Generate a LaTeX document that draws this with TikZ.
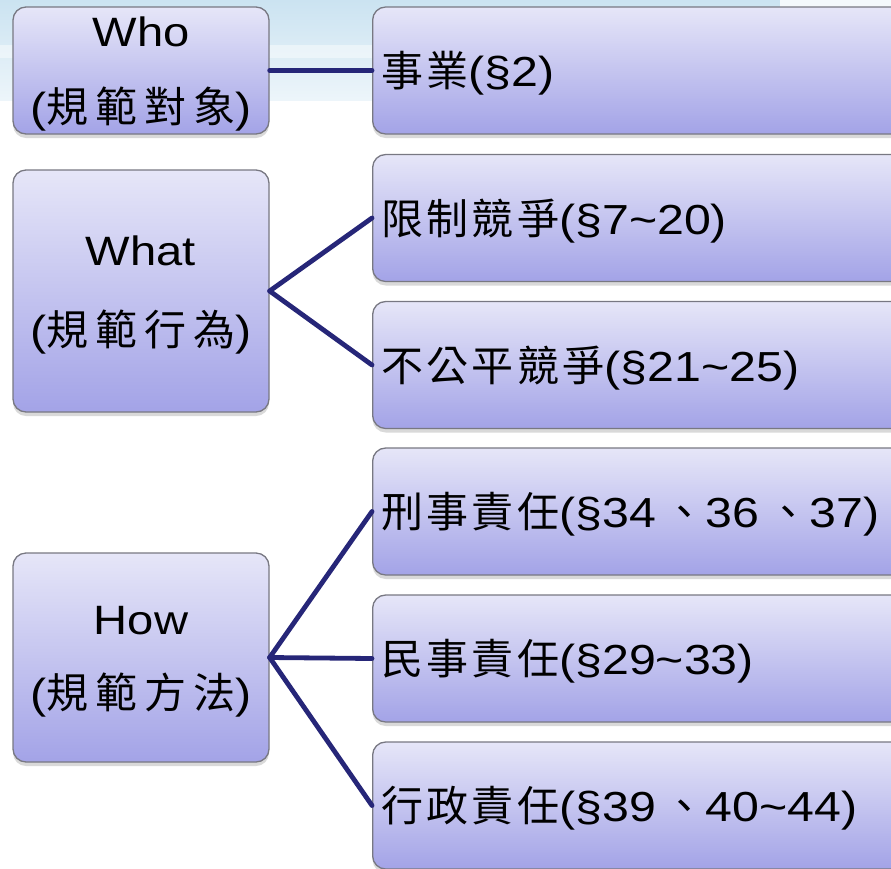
\documentclass[tikz,border=0pt]{standalone}
\usepackage{fontspec}
\setmainfont{Liberation Sans}
\newfontfamily\cjkfont[LetterSpace=8]{Noto Sans CJK TC}
\newfontfamily\cjkwidefont[LetterSpace=16]{Noto Sans CJK TC}
\newfontfamily\latwide[FakeStretch=1.15]{Liberation Sans}
\usetikzlibrary{shadows}
\newcommand\CJ[1]{{\cjkfont\fontsize{42}{50}\selectfont #1}}
\newcommand\CW[1]{{\cjkwidefont\fontsize{42}{50}\selectfont #1}}
\newcommand\LW[1]{{\latwide\fontsize{42}{50}\selectfont #1}}
\newcommand\LN[1]{{\latwide\fontsize{41}{50}\selectfont #1}}
\newcommand\DUN{\hspace{8pt}\CJ{、}}
\definecolor{boxtop}{RGB}{230,230,248}
\definecolor{boxbot}{RGB}{163,163,231}
\definecolor{boxedge}{RGB}{120,120,130}
\definecolor{navy}{RGB}{38,38,120}
\definecolor{bannerblue}{RGB}{203,227,241}
\begin{document}
\begin{tikzpicture}[x=1pt,y=-1pt,
  boxbase/.style={draw=boxedge, line width=1.3pt, rounded corners=13pt,
    top color=boxtop, bottom color=boxbot, inner sep=0pt,
    drop shadow={shadow xshift=0pt, shadow yshift=-4pt, opacity=0.25, fill=black!60}},
  lbox/.style={boxbase, minimum width=256pt},
  rbox/.style={boxbase, minimum width=540pt, minimum height=127pt, anchor=west},
  conn/.style={draw=navy, line width=4.8pt, line cap=round},
  ltext/.style={anchor=base, inner sep=0pt},
  rtext/.style={anchor=base west, inner sep=0pt}]
\useasboundingbox (0,0) rectangle (891,868);
% banner
\shade[top color=bannerblue, bottom color=bannerblue!35] (0,0) rectangle (891,100);
\fill[white, opacity=0.45] (0,45) rectangle (891,58);
\shade[left color=bannerblue!0, right color=white, opacity=0.8] (780,0) rectangle (891,100);

% left boxes
\node[lbox, minimum height=127pt] (who) at (141,70.5) {};
\node[lbox, minimum height=242pt] (what) at (141,291) {};
\node[lbox, minimum height=209pt] (how) at (141,657.5) {};

\node[ltext] (whoA) at ([yshift=24pt]who.center) {\LN{Who}};
\node[ltext] (whoB) at ([yshift=-52pt]who.center) {\LW{(}\CW{規範對象}\LW{)}};
\node[ltext] (whatA) at ([yshift=26pt]what.center) {\LN{What}};
\node[ltext] (whatB) at ([yshift=-54pt]what.center) {\LW{(}\CW{規範行為}\LW{)}};
\node[ltext] (howA) at ([yshift=23pt]how.center) {\LN{How}};
\node[ltext] (howB) at ([yshift=-51pt]how.center) {\LW{(}\CW{規範方法}\LW{)}};

% right boxes
\node[rbox] (r1) at (372,70.5) {};
\node[rbox] (r2) at (372,218) {};
\node[rbox] (r3) at (372,365) {};
\node[rbox] (r4) at (372,511.5) {};
\node[rbox] (r5) at (372,658.5) {};
\node[rbox] (r6) at (372,805.5) {};

\node[rtext] (t1) at ([xshift=9pt,yshift=-16pt]r1.west) {\CJ{事業}\LW{(§2)}};
\node[rtext] (t2) at ([xshift=9pt,yshift=-16pt]r2.west) {\CJ{限制競爭}\LW{(§7\char`\~20)}};
\node[rtext] (t3) at ([xshift=9pt,yshift=-16pt]r3.west) {\CJ{不公平競爭}\LW{(§21\char`\~25)}};
\node[rtext] (t4) at ([xshift=9pt,yshift=-16pt]r4.west) {\CJ{刑事責任}\LW{(§34}\DUN\LW{36}\DUN\LW{37)}};
\node[rtext] (t5) at ([xshift=9pt,yshift=-16pt]r5.west) {\CJ{民事責任}\LW{(§29\char`\~33)}};
\node[rtext] (t6) at ([xshift=9pt,yshift=-16pt]r6.west) {\CJ{行政責任}\LW{(§39}\DUN\LW{40\char`\~44)}};

% connectors
\draw[conn] (who.east) -- (r1.west);
\draw[conn] (what.east) -- (r2.west);
\draw[conn] (what.east) -- (r3.west);
\draw[conn] (how.east) -- (r4.west);
\draw[conn] (how.east) -- (r5.west);
\draw[conn] (how.east) -- (r6.west);
\end{tikzpicture}
\end{document}
